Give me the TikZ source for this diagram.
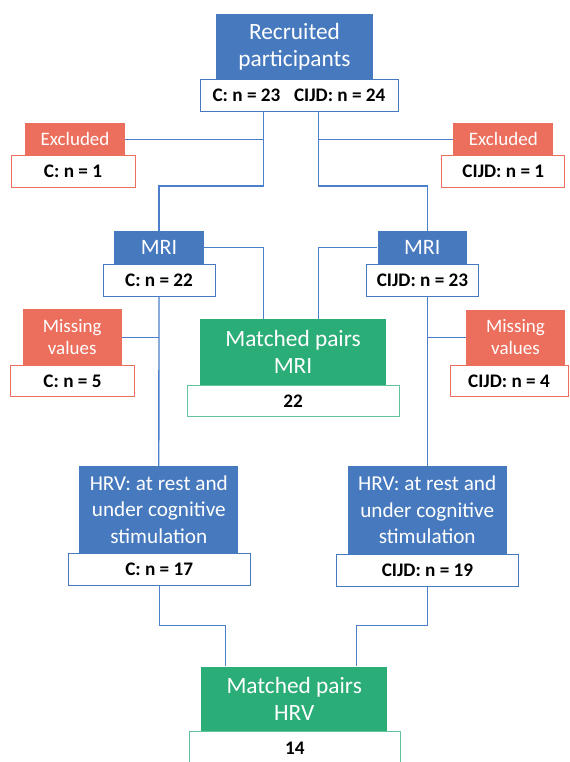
\documentclass[tikz,border=0pt]{standalone}
\usepackage{fontspec}
\setmainfont{Carlito}
\usepackage{tikz}
\usetikzlibrary{calc}
\definecolor{hdrblue}{HTML}{4679BE}
\definecolor{exred}{HTML}{EC6E5C}
\definecolor{pairgreen}{HTML}{2BAD77}
\definecolor{linkblue}{HTML}{4C7FCB}
\definecolor{pairline}{HTML}{62C49B}
\newlength\px
\setlength\px{0.75pt}
\tikzset{
  boxsize/.style 2 args={minimum width=#1\px, minimum height=#2\px},
  hdr/.style={inner sep=0pt, align=center, text=white, font=\fontsize{15.9}{20}\selectfont},
  bluehdr/.style={hdr, fill=hdrblue},
  bighdr/.style={font=\fontsize{17.5}{20.3}\selectfont},
  redhdr/.style={hdr, fill=exred, font=\fontsize{14.25}{16.5}\selectfont},
  greenhdr/.style={hdr, fill=pairgreen, bighdr},
  cnt/.style={fill=white, line width=0.6pt, inner sep=0pt, font=\bfseries\fontsize{14.4}{16}\selectfont},
  bluecnt/.style={cnt, draw=hdrblue},
  redcnt/.style={cnt, draw=exred},
  greencnt/.style={cnt, draw=pairline},
  link/.style={draw=linkblue, line width=1pt}
}

\begin{document}
\begin{tikzpicture}[x=0.75pt, y=-0.75pt]
  \useasboundingbox[fill=white] (0,0) rectangle (569,762);

  % top
  \node[bluehdr, bighdr, boxsize={157}{65}] (recH) at (294.5,46.5) {Recruited\\participants};
  \node[bluecnt, boxsize={198}{32}] (recC) at (299,95) {C: n = 23\hspace{7pt} CIJD: n = 24};

  % excluded
  \node[redhdr, boxsize={100}{31.7}] (excLH) at (75,139.2) {Excluded};
  \node[redcnt, boxsize={124}{32.7}] (excLC) at (73,171.3) {C: n = 1};
  \node[redhdr, boxsize={100}{31.7}] (excRH) at (503.3,139.2) {Excluded};
  \node[redcnt, boxsize={123}{32.7}] (excRC) at (503.3,171.3) {CIJD: n = 1};

  % MRI
  \node[bluehdr, font=\fontsize{16.5}{20}\selectfont, boxsize={90}{33}] (mriLH) at (159,247.5) {MRI};
  \node[bluecnt, boxsize={112}{32}] (mriLC) at (159,280) {C: n = 22};
  \node[bluehdr, font=\fontsize{16.5}{20}\selectfont, boxsize={89}{33}] (mriRH) at (422.2,247.5) {MRI};
  \node[bluecnt, boxsize={112}{32}] (mriRC) at (422.5,280) {CIJD: n = 23};

  % missing values
  \node[redhdr, boxsize={99}{55.7}] (misLH) at (72.2,337.2) {Missing\\values};
  \node[redcnt, boxsize={123.6}{31.7}] (misLC) at (72.5,380.8) {C: n = 5};
  \node[redhdr, boxsize={99}{55}] (misRH) at (515.5,337.5) {Missing\\values};
  \node[redcnt, boxsize={118}{31.7}] (misRC) at (509,380.8) {CIJD: n = 4};

  % matched MRI
  \node[greenhdr, boxsize={186}{65.7}] (matMH) at (293,352) {Matched pairs\\MRI};
  \node[greencnt, boxsize={211.7}{31.7}] (matMC) at (293.2,400.8) {22};

  % HRV
  \node[bluehdr, boxsize={159}{87.3}] (hrvLH) at (158.8,509.7) {HRV: at rest and\\under cognitive\\stimulation};
  \node[bluecnt, boxsize={181.7}{32.4}] (hrvLC) at (159.2,569.5) {C: n = 17};
  \node[bluehdr, boxsize={159}{88}] (hrvRH) at (427.2,510) {HRV: at rest and\\under cognitive\\stimulation};
  \node[bluecnt, boxsize={181.6}{32}] (hrvRC) at (427.5,570) {CIJD: n = 19};

  % matched HRV
  \node[greenhdr, boxsize={186.3}{65}] (matHH) at (294.2,699.2) {Matched pairs\\HRV};
  \node[greencnt, boxsize={211.7}{34}] (matHC) at (294.8,748.7) {14};

  % connectors
  \coordinate (trunkL) at (263.3,0);
  \coordinate (trunkR) at (318.3,0);
  \coordinate (split) at (0,186);
  \coordinate (mergeL) at (225.7,625.7);
  \coordinate (mergeR) at (356.7,625.7);

  \draw[link] (recC.south -| trunkL) -- (trunkL |- split) -| (mriLH.north);
  \draw[link] (recC.south -| trunkR) -- (trunkR |- split) -| (mriRH.north -| hrvRH.north);
  \draw[link] (excLH.east) -- (excLH.east -| trunkL);
  \draw[link] (excRH.west) -- (excRH.west -| trunkR);
  \draw[link] (mriLH.east) -| (matMH.north -| trunkL);
  \draw[link] (mriRH.west) -| (matMH.north -| trunkR);
  \draw[link] (mriLC.south) -- (hrvLH.north);
  \draw[link] (mriRC.south -| hrvRH.north) -- (hrvRH.north);
  \draw[link] (misLH.east) -- (misLH.east -| mriLC.south);
  \draw[link] (misRH.west) -- (misRH.west -| hrvRH.north);
  \draw[link] (hrvLC.south) |- (mergeL) -- (mergeL |- matHH.north);
  \draw[link] (hrvRC.south) |- (mergeR) -- (mergeR |- matHH.north);
\end{tikzpicture}
\end{document}
